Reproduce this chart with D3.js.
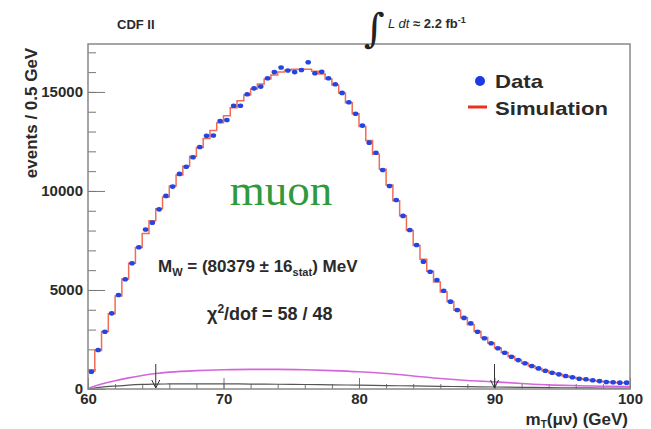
<!DOCTYPE html>
<html>
<head>
<meta charset="UTF-8">
<title>CDF II W mass, muon channel</title>
<script src="https://d3js.org/d3.v7.min.js"></script>
<style>
  body { margin: 0; background: #fff; font-family: 'Liberation Sans', Arial, sans-serif; }
  svg { display: block; }
  .tick text { font-weight: bold; font-size: 15px; fill: #2a2a2a; }
  .lbl { font-weight: bold; fill: #2a2a2a; }
</style>
</head>
<body>
<svg width="651" height="429"></svg>
<script>
// m_T bins of 0.5 GeV from 60 to 100
const binLow = d3.range(80).map(i => 60 + i * 0.5);

// data, events / 0.5 GeV
const dataVals = [
  870, 1970, 2890, 3820, 4750, 5540, 6350, 7160, 8050, 8400,
  9070, 9750, 10220, 10860, 11220, 11700, 12220, 12790, 12800, 13530,
  13580, 14300, 14300, 14880, 15180, 15270, 15690, 16000, 16230, 16080,
  16000, 16110, 16500, 15940, 16020, 15690, 15390, 14950, 14480, 13900,
  13300, 12440, 11930, 11060, 10250, 9540, 8740, 8030, 7270, 6430,
  5920, 5500, 4960, 4410, 3990, 3590, 3320, 2890, 2560, 2310,
  2060, 1830, 1630, 1460, 1300, 1160, 1040, 920, 820, 740,
  660, 590, 520, 490, 440, 400, 350, 340, 320, 320
];

// simulation histogram
const simVals = [
  900, 1950, 2900, 3800, 4700, 5550, 6350, 7150, 7850, 8500,
  9100, 9700, 10250, 10800, 11250, 11750, 12200, 12650, 13050, 13450,
  13800, 14200, 14550, 14850, 15150, 15400, 15650, 15850, 16000, 16100,
  16150, 16150, 16150, 16050, 15900, 15650, 15350, 14950, 14450, 13900,
  13250, 12550, 11850, 11100, 10300, 9500, 8750, 8000, 7250, 6550,
  5950, 5400, 4900, 4420, 3980, 3600, 3250, 2900, 2600, 2320,
  2070, 1840, 1640, 1460, 1300, 1160, 1030, 920, 820, 740,
  660, 590, 530, 480, 430, 390, 360, 330, 310, 300
];

// backgrounds
const bkgMT  = [60, 61, 62, 63, 64, 65, 66, 68, 70, 72, 74, 76, 78, 80, 82, 84, 86, 88, 90, 92, 94, 96, 98, 100];
const bkgA   = [30, 250, 420, 560, 680, 780, 850, 930, 970, 990, 990, 970, 930, 870, 780, 660, 530, 430, 360, 280, 210, 170, 140, 120];
const bkgB   = [0, 90, 150, 200, 230, 245, 255, 260, 258, 250, 240, 228, 212, 195, 175, 155, 135, 118, 100, 85, 70, 58, 48, 40];

const fitEdges = [65, 90];
const yMajor = [0, 5000, 10000, 15000];
const xMajor = [60, 70, 80, 90, 100];

const svg = d3.select("svg");
const x = d3.scaleLinear().domain([60, 100]).range([88, 630]);
const y = d3.scaleLinear().domain([0, 17420]).range([389, 44]);

// minor ticks
svg.append("g").attr("transform", "translate(88,0)")
  .call(d3.axisLeft(y).tickValues(d3.range(0, 17001, 1000)).tickSize(-8).tickFormat(""))
  .call(g => g.select(".domain").remove())
  .call(g => g.selectAll("line").attr("stroke", "#777"));
svg.append("g").attr("transform", "translate(0,389)")
  .call(d3.axisBottom(x).tickValues(d3.range(60, 101, 2)).tickSize(-5).tickFormat(""))
  .call(g => g.select(".domain").remove())
  .call(g => g.selectAll("line").attr("stroke", "#777"));

// major ticks with labels
svg.append("g").attr("transform", "translate(88,0)")
  .call(d3.axisLeft(y).tickValues(yMajor).tickSize(-17).tickPadding(5).tickFormat(d3.format("d")))
  .call(g => g.select(".domain").remove())
  .call(g => g.selectAll("line").attr("stroke", "#777"));
svg.append("g").attr("transform", "translate(0,389)")
  .call(d3.axisBottom(x).tickValues(xMajor).tickSize(-11).tickPadding(4).tickFormat(d3.format("d")))
  .call(g => g.select(".domain").remove())
  .call(g => g.selectAll("line").attr("stroke", "#777"));

// background curves
const bline = d3.line().curve(d3.curveMonotoneX);
svg.append("path")
  .attr("d", bline(bkgMT.map((m, i) => [x(m), y(bkgB[i])])))
  .attr("fill", "none").attr("stroke", "#555").attr("stroke-width", 1.2);
svg.append("path")
  .attr("d", bline(bkgMT.map((m, i) => [x(m), y(bkgA[i])])))
  .attr("fill", "none").attr("stroke", "#d466dc").attr("stroke-width", 1.6);

// fit range arrows
fitEdges.forEach(m => {
  svg.append("line").attr("x1", x(m)).attr("x2", x(m)).attr("y1", 364).attr("y2", 388)
    .attr("stroke", "#333").attr("stroke-width", 1);
  svg.append("path")
    .attr("d", `M${x(m) - 4},${380} L${x(m)},${388} L${x(m) + 4},${380}`)
    .attr("fill", "none").attr("stroke", "#333").attr("stroke-width", 1);
});

// simulation step histogram
const stepPts = [];
binLow.forEach((lo, i) => {
  stepPts.push([x(lo), y(simVals[i])]);
  stepPts.push([x(lo + 0.5), y(simVals[i])]);
});
svg.append("path")
  .attr("d", d3.line()(stepPts))
  .attr("fill", "none").attr("stroke", "#ef6d58").attr("stroke-width", 1.5);

// data points
svg.append("g").selectAll("ellipse")
  .data(dataVals)
  .join("ellipse")
  .attr("cx", (d, i) => x(binLow[i] + 0.25))
  .attr("cy", d => y(d))
  .attr("rx", 2.8).attr("ry", 2.3)
  .attr("fill", "#2445e0");

// frame
svg.append("rect")
  .attr("x", x(60)).attr("y", y(17420))
  .attr("width", x(100) - x(60)).attr("height", y(0) - y(17420))
  .attr("fill", "none").attr("stroke", "#888").attr("stroke-width", 1.5);

// header
svg.append("text").attr("class", "lbl").attr("x", 117).attr("y", 29)
  .attr("font-size", 13).text("CDF II");
svg.append("text").attr("x", 364).attr("y", 42)
  .attr("font-size", 40).attr("font-family", "DejaVu Serif").attr("fill", "#222")
  .text("∫");
const lum = svg.append("text").attr("class", "lbl").attr("x", 388).attr("y", 28).attr("font-size", 13);
lum.append("tspan").attr("font-style", "italic").attr("font-weight", "normal").text("L dt");
lum.append("tspan").text(" ≈ 2.2 fb");
lum.append("tspan").attr("dy", -5).attr("font-size", 9).text("-1");

// axis titles
svg.append("text").attr("class", "lbl")
  .attr("transform", "translate(37,113) rotate(-90)")
  .attr("text-anchor", "middle").attr("font-size", 17)
  .text("events / 0.5 GeV");
const xt = svg.append("text").attr("class", "lbl")
  .attr("x", 628).attr("y", 425).attr("text-anchor", "end").attr("font-size", 17);
xt.append("tspan").text("m");
xt.append("tspan").attr("dy", 3).attr("font-size", 10).text("T");
xt.append("tspan").attr("dy", -3).text("(μν) (GeV)");

// legend
svg.append("circle").attr("cx", 480).attr("cy", 81).attr("r", 5).attr("fill", "#1a3ae8");
svg.append("text").attr("class", "lbl").attr("x", 495).attr("y", 88).attr("font-size", 19)
  .attr("textLength", 48).attr("lengthAdjust", "spacingAndGlyphs").text("Data");
svg.append("line").attr("x1", 468).attr("x2", 487).attr("y1", 107).attr("y2", 107)
  .attr("stroke", "#e8321e").attr("stroke-width", 3);
svg.append("text").attr("class", "lbl").attr("x", 495).attr("y", 115).attr("font-size", 19)
  .attr("textLength", 113).attr("lengthAdjust", "spacingAndGlyphs").text("Simulation");

// annotations
svg.append("text").attr("x", 281).attr("y", 205).attr("text-anchor", "middle")
  .attr("font-family", "'Liberation Serif', 'DejaVu Serif', serif")
  .attr("font-size", 45).attr("fill", "#2f9a3c").text("muon");

const mw = svg.append("text").attr("class", "lbl").attr("x", 158).attr("y", 272).attr("font-size", 17);
mw.append("tspan").text("M");
mw.append("tspan").attr("dy", 4).attr("font-size", 11).text("W");
mw.append("tspan").attr("dy", -4).text(" = (80379 ± 16");
mw.append("tspan").attr("dy", 4).attr("font-size", 11).text("stat");
mw.append("tspan").attr("dy", -4).text(") MeV");

const chi = svg.append("text").attr("class", "lbl").attr("x", 207).attr("y", 320).attr("font-size", 18);
chi.append("tspan").text("χ");
chi.append("tspan").attr("dy", -7).attr("font-size", 12).text("2");
chi.append("tspan").attr("dy", 7).text("/dof = 58 / 48");
</script>
</body>
</html>
